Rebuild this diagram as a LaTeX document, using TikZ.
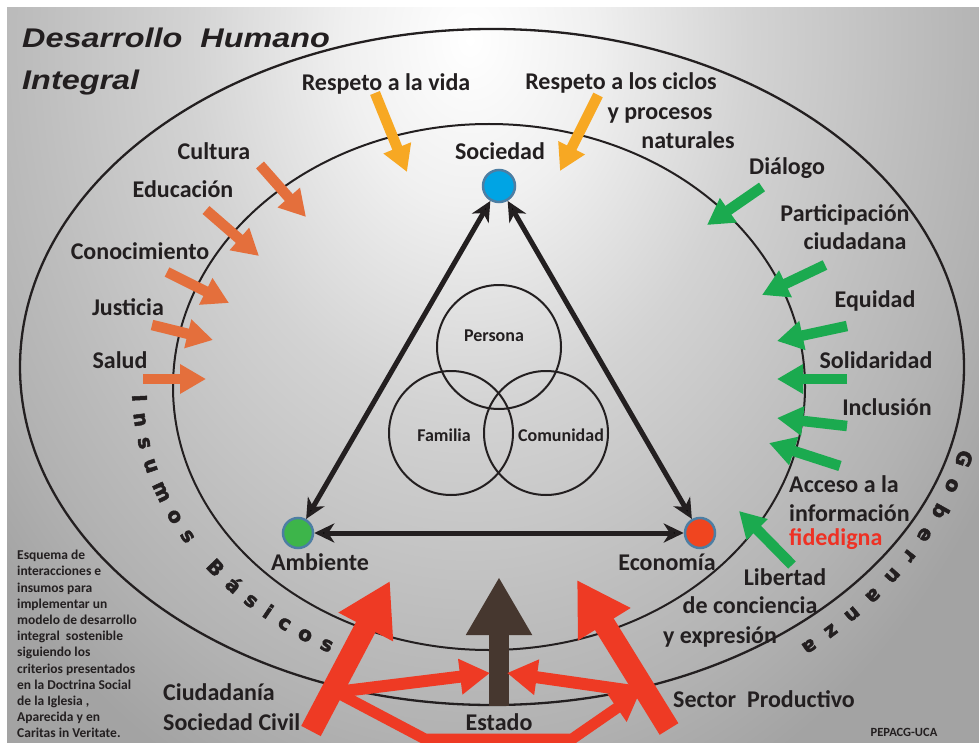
\documentclass[tikz,border=0pt]{standalone}
\usepackage{fontspec}
\usepackage{graphicx}
\setmainfont{Carlito}
\newfontfamily\titlefont{Liberation Sans}
\newfontfamily\curvefont[BoldFeatures={FakeBold=2.5}]{DejaVu Sans}
\usetikzlibrary{arrows.meta,decorations.text}
\definecolor{txt}{HTML}{231F20}
\definecolor{orng}{HTML}{E46F3C}
\definecolor{yell}{HTML}{F7A823}
\definecolor{grn}{HTML}{1BAA4F}
\definecolor{redd}{HTML}{EE3A24}
\definecolor{brwn}{HTML}{46372F}
\definecolor{cblue}{HTML}{00A4E4}
\definecolor{cgreen}{HTML}{3DB54A}
\definecolor{cred}{HTML}{F0451F}
\definecolor{cbord}{HTML}{4D7EA3}
\definecolor{fidred}{HTML}{EE3124}
\definecolor{bgA}{HTML}{F0F0F0}
\definecolor{bgB}{HTML}{D3D3D3}
\definecolor{bgC}{HTML}{BEBEBE}
\definecolor{bgD}{HTML}{B2B2B2}
\definecolor{bgE}{HTML}{A3A3A3}
\pgfdeclareradialshading{bgshade}{\pgfpoint{0bp}{0bp}}{%
 color(0bp)=(white); color(5bp)=(bgA); color(11.25bp)=(bgB); color(17.5bp)=(bgC); color(21.25bp)=(bgD); color(25bp)=(bgE); color(50bp)=(bgE)}
\begin{document}
\begin{tikzpicture}[x=1pt,y=-1pt,
  lbl/.style={font=\fontsize{24}{28}\selectfont\bfseries, text=txt, inner sep=0pt, anchor=base},
  lblw/.style={lbl, anchor=base west},
  venn/.style={font=\fontsize{18}{21}\selectfont\bfseries, text=txt, inner sep=0pt, anchor=base},
  vennc/.style={circle, draw=txt, line width=2pt, minimum size=124pt, inner sep=0pt},
  dot/.style={circle, draw=cbord, line width=2.5pt, minimum size=30pt, inner sep=0pt},
  tri/.style={draw=txt, line width=5pt, {Stealth[length=20pt,width=19pt,inset=6pt]}-{Stealth[length=20pt,width=19pt,inset=6pt]}},
  fat/.style={line width=10.5pt, -{Triangle[length=26pt,width=28pt]}},
  titl/.style={font=\titlefont\fontsize{27}{30}\selectfont\bfseries\itshape, text=txt, inner sep=0pt, anchor=base west},
  curv/.style={font=\curvefont\bfseries\fontsize{20}{20}\selectfont, decorate, decoration={text along path, text color=txt, text align={fit to path},
     text={|\curvefont\bfseries\fontsize{20}{20}\selectfont|#1}}}
]
\useasboundingbox (0,0) rectangle (979,743);
\fill[white] (0,0) rectangle (979,743);
\begin{scope}
  \clip (7,8) rectangle (979,743);
  \shade[shading=bgshade] (-150,-780) rectangle (1090,860);
\end{scope}

% ellipses
\draw[txt, line width=2.3pt] (492,367) ellipse [x radius=472, y radius=338];
\draw[txt, line width=2pt] (489,387) ellipse [x radius=316, y radius=263];

% curved texts
\path[curv={Insumos Básicos}] (489,387) ++(178.5:357 and 297) arc[start angle=178.5, end angle=116.5, x radius=357, y radius=297];
\path[curv={Gobernanza}] (492,367) ++(13:480 and 363) arc[start angle=13, end angle=50, x radius=480, y radius=363];

% title
\node[titl] (t1) at (22,48) {\scalebox{1.2}[1]{Desarrollo\ \ Humano}};
\node[titl] (t2) at (22,90) {\scalebox{1.2}[1]{Integral}};

% Venn
\node[vennc] (cP) at (499,347) {};
\node[vennc] (cF) at (451,433) {};
\node[vennc] (cC) at (546,433) {};
\node[venn] (lper) at (494,341) {Persona};
\node[venn] (lfam) at (444,441) {Familia};
\node[venn] (lcom) at (561,441) {Comunidad};

% triangle
\node[dot, fill=cblue, minimum size=32pt] (soc) at (499,186) {};
\node[dot, fill=cgreen] (amb) at (298,533) {};
\node[dot, fill=cred] (eco) at (700,533) {};
\draw[tri] (soc) -- (amb);
\draw[tri] (soc) -- (eco);
\draw[tri] (amb) -- (eco);

% arrow coordinates
\coordinate (culT) at (260,165); \coordinate (culH) at (306,217);
\coordinate (eduT) at (206,210); \coordinate (eduH) at (259,256);
\coordinate (conT) at (167,272); \coordinate (conH) at (229,303);
\coordinate (jusT) at (152,325); \coordinate (jusH) at (213,340);
\coordinate (salT) at (143,379); \coordinate (salH) at (206,379);
\coordinate (vidT) at (375,93);  \coordinate (vidH) at (407,172);
\coordinate (cicT) at (598,95);  \coordinate (cicH) at (560,171);
\coordinate (diaT) at (762,187); \coordinate (diaH) at (707,225);
\coordinate (parT) at (825,265); \coordinate (parH) at (762,295);
\coordinate (equT) at (847,326); \coordinate (equH) at (777,341);
\coordinate (solT) at (847,379); \coordinate (solH) at (777,379);
\coordinate (incT) at (847,426); \coordinate (incH) at (777,418);
\coordinate (accT) at (840,466); \coordinate (accH) at (769,443);
\coordinate (libT) at (792,565); \coordinate (libH) at (739,511);

\foreach \a in {cul,edu,con,jus,sal} \draw[fat, orng] (\a T) -- (\a H);
\foreach \a in {vid,cic} \draw[fat, yell] (\a T) -- (\a H);
\foreach \a in {dia,par,equ,sol,inc,acc,lib} \draw[fat, grn] (\a T) -- (\a H);

% bottom actors
\coordinate (bT) at (499,706); \coordinate (bH) at (499,577);
\coordinate (rlT) at (311,731); \coordinate (rlH) at (390,581);
\coordinate (rrT) at (669,729); \coordinate (rrH) at (577,580);
\coordinate (rj1) at (336,692); \coordinate (rj2) at (640,692);
\coordinate (rb1) at (425,739); \coordinate (rb2) at (572,739);
\coordinate (stL) at (490,673); \coordinate (stR) at (507,673);

\draw[brwn, line width=20pt, -{Triangle[length=58pt,width=62pt]}] (bT) -- (bH);
\draw[redd, line width=22pt, -{Triangle[length=52pt,width=58pt]}] (rlT) -- (rlH);
\draw[redd, line width=22pt, -{Triangle[length=52pt,width=58pt]}] (rrT) -- (rrH);
\draw[redd, line width=12pt, -{Triangle[length=30pt,width=34pt]}] (rj1) -- (stL);
\draw[redd, line width=12pt, -{Triangle[length=30pt,width=34pt]}] (rj2) -- (stR);
\draw[redd, line width=11pt, line join=miter, -{Triangle[length=28pt,width=32pt]}] (rj1) -- (rb1) -- (rb2) -- (rj2);

% labels
\node[lbl] (lvid) at (386,91) {Respeto a la vida};
\node[lbl] (lcic1) at (621,90) {Respeto a los ciclos};
\node[lbl] (lcic2) at (660,120) {y procesos};
\node[lbl] (lcic3) at (688,149) {naturales};
\node[lbl] (lsoc) at (500,160) {Sociedad};
\node[lbl] (lcul) at (214,160) {Cultura};
\node[lbl] (ledu) at (183,198) {Educación};
\node[lbl] (lcon) at (140,259) {Conocimiento};
\node[lbl] (ljus) at (128,315) {Justicia};
\node[lbl] (lsal) at (120,368) {Salud};
\node[lbl] (ldia) at (787,175) {Diálogo};
\node[lbl] (lpar1) at (845,222) {Participación};
\node[lbl] (lpar2) at (855,250) {ciudadana};
\node[lbl] (lequ) at (875,307) {Equidad};
\node[lbl] (lsol) at (876,368) {Solidaridad};
\node[lbl] (linc) at (887,415) {Inclusión};
\node[lblw] (lacc1) at (789,492) {Acceso a la};
\node[lblw] (lacc2) at (789,521) {información};
\node[lblw, text=fidred] (lacc3) at (789,545) {fidedigna};
\node[lbl] (llib1) at (785,585) {Libertad};
\node[lbl] (llib2) at (750,613) {de conciencia};
\node[lbl] (llib3) at (720,643) {y expresión};
\node[lblw] (lciu1) at (163,700) {Ciudadanía};
\node[lblw] (lciu2) at (163,730) {Sociedad Civil};
\node[lbl] (lest) at (499,730) {Estado};
\node[lbl] (lsec) at (764,707) {Sector\ \ Productivo};
\node[lbl] (lamb) at (320,570) {Ambiente};
\node[lbl] (leco) at (667,570) {Economía};

\node[font=\fontsize{13.5}{16.2}\selectfont\bfseries, text=txt, align=left, anchor=north west, inner sep=0pt] (esq) at (17,550)
 {Esquema de\\interacciones e\\insumos para\\implementar un\\modelo de desarrollo\\integral\ \ sostenible\\siguiendo los\\criterios presentados\\en la Doctrina Social\\de la Iglesia ,\\Aparecida y en\\Caritas in Veritate.};
\node[font=\fontsize{12.5}{14}\selectfont\bfseries, text=txt, inner sep=0pt, anchor=base] (pep) at (904,736) {PEPACG-UCA};
\end{tikzpicture}
\end{document}
